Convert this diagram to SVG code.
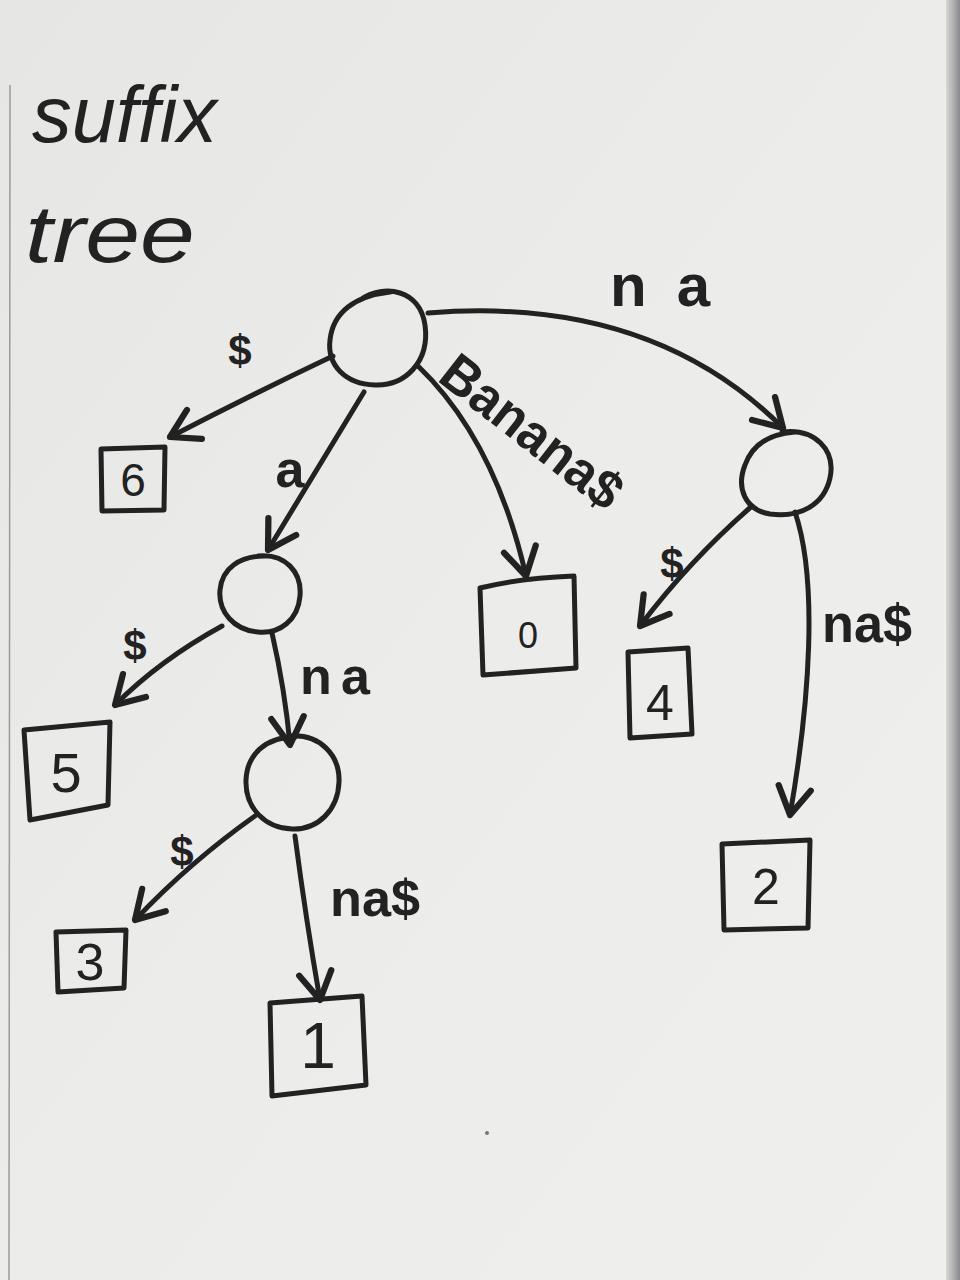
<svg xmlns="http://www.w3.org/2000/svg" width="960" height="1280" viewBox="0 0 960 1280">
<defs>
<linearGradient id="paper" x1="0" y1="0" x2="1" y2="1">
<stop offset="0" stop-color="#e6e6e4"/>
<stop offset="0.5" stop-color="#ececea"/>
<stop offset="1" stop-color="#efefed"/>
</linearGradient>
<linearGradient id="edge" x1="0" y1="0" x2="1" y2="0">
<stop offset="0" stop-color="#d8d8d6"/>
<stop offset="1" stop-color="#8a8a8c"/>
</linearGradient>
<marker id="v" markerUnits="userSpaceOnUse" markerWidth="50" markerHeight="50" viewBox="-30 -20 40 40" refX="0" refY="0" orient="auto">
<path d="M-22,-13 L0,0 L-22,13" fill="none" stroke="#222" stroke-width="5" stroke-linecap="round" stroke-linejoin="round"/>
</marker>
<style>
.ink{fill:none;stroke:#222;stroke-width:5;stroke-linecap:round;stroke-linejoin:round}
.edge{fill:none;stroke:#222;stroke-width:5;stroke-linecap:round;marker-end:url(#v)}
.lbl{font-family:"Liberation Sans",Arial,sans-serif;fill:#222;font-weight:bold}
.num{font-family:"Liberation Sans",Arial,sans-serif;fill:#222;text-anchor:middle}
.title{font-family:"Liberation Sans",Arial,sans-serif;fill:#222;font-style:italic}
</style>
</defs>
<rect width="960" height="1280" fill="url(#paper)"/>
<rect x="946" y="0" width="14" height="1280" fill="url(#edge)"/>
<line x1="10" y1="85" x2="9" y2="1280" stroke="#9a9a98" stroke-width="1.5"/>
<circle cx="487" cy="1133" r="2" fill="#777"/>

<g id="title">
<text class="title" x="32" y="142" font-size="80" textLength="185" lengthAdjust="spacingAndGlyphs">suffix</text>
<text class="title" x="25" y="262" font-size="82" textLength="170" lengthAdjust="spacingAndGlyphs">tree</text>
</g>

<g id="connectors">
<path class="edge" d="M333,356 Q255,393 170,437"/>
<path class="edge" d="M364,392 L268,550"/>
<path class="edge" d="M418,366 Q495,440 526,576"/>
<path class="edge" d="M428,313 Q650,295 783,428"/>
<path class="edge" d="M752,506 Q690,560 640,626"/>
<path class="edge" d="M795,512 C818,580 810,700 790,815"/>
<path class="edge" d="M222,626 Q160,660 115,705"/>
<path class="edge" d="M272,633 Q285,690 290,745"/>
<path class="edge" d="M255,816 Q190,862 135,920"/>
<path class="edge" d="M295,836 Q306,920 320,1000"/>
</g>

<g id="edge-labels">
<text class="lbl" x="240" y="365" font-size="42" text-anchor="middle">$</text>
<text class="lbl" x="290" y="487" font-size="52" text-anchor="middle">a</text>
<text class="lbl" transform="translate(436,380) rotate(38)" font-size="54" textLength="215" lengthAdjust="spacingAndGlyphs">Banana$</text>
<text class="lbl" x="610" y="306" font-size="60" textLength="100" lengthAdjust="spacing">na</text>
<text class="lbl" x="672" y="578" font-size="42" text-anchor="middle">$</text>
<text class="lbl" x="822" y="642" font-size="54" textLength="90" lengthAdjust="spacingAndGlyphs">na$</text>
<text class="lbl" x="135" y="660" font-size="42" text-anchor="middle">$</text>
<text class="lbl" x="300" y="694" font-size="52" textLength="70" lengthAdjust="spacing">na</text>
<text class="lbl" x="182" y="866" font-size="42" text-anchor="middle">$</text>
<text class="lbl" x="330" y="916" font-size="52" textLength="90" lengthAdjust="spacingAndGlyphs">na$</text>
</g>

<g id="root">
<path class="ink" d="M360,300 C385,283 420,290 425,325 C430,362 405,386 375,385 C345,384 327,365 330,340 C333,312 355,296 390,292"/>
</g>
<g id="node-na">
<path class="ink" d="M782,432 C815,428 836,450 830,478 C824,505 800,518 770,514 C745,510 736,488 745,465 C752,445 768,434 795,432"/>
</g>
<g id="node-a">
<path class="ink" d="M258,556 C285,553 302,572 300,596 C298,620 280,634 258,632 C234,630 218,612 220,590 C222,568 240,556 265,556"/>
</g>
<g id="node-ana">
<path class="ink" d="M290,736 C320,734 340,755 339,782 C338,810 318,830 292,829 C265,828 245,808 246,780 C247,755 265,737 295,737"/>
</g>

<g id="leaf-6">
<path class="ink" d="M101,449 L165,447 L164,510 L102,511 Z"/>
<text class="num" x="133" y="496" font-size="46">6</text>
</g>
<g id="leaf-0">
<path class="ink" d="M480,588 Q520,578 574,576 L576,668 L483,675 Z"/>
<text class="num" x="528" y="648" font-size="36">0</text>
</g>
<g id="leaf-4">
<path class="ink" d="M628,652 L688,648 L692,734 L630,738 Z"/>
<text class="num" x="660" y="720" font-size="50">4</text>
</g>
<g id="leaf-2">
<path class="ink" d="M722,844 L810,840 L808,928 L724,930 Z"/>
<text class="num" x="766" y="904" font-size="50">2</text>
</g>
<g id="leaf-5">
<path class="ink" d="M24,730 L110,722 L108,805 L30,820 Z"/>
<text class="num" x="66" y="792" font-size="56">5</text>
</g>
<g id="leaf-3">
<path class="ink" d="M56,932 L126,930 L124,988 L58,992 Z"/>
<text class="num" x="90" y="980" font-size="52">3</text>
</g>
<g id="leaf-1">
<path class="ink" d="M270,1003 L362,996 L366,1085 L272,1096 Z"/>
<text class="num" x="318" y="1068" font-size="64">1</text>
</g>
</svg>
